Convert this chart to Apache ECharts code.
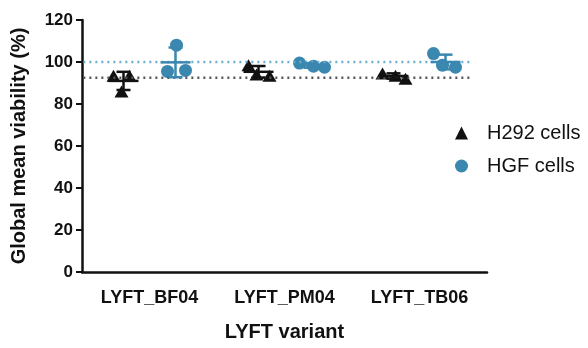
<!DOCTYPE html>
<html>
<head>
<meta charset="utf-8">
<script src="https://cdn.jsdelivr.net/npm/echarts@6/dist/echarts.min.js"></script>
<style>
  html, body { margin: 0; padding: 0; background: #fff; }
  #chart { width: 588px; height: 348px; }
</style>
</head>
<body>
<div id="chart"></div>
<script>
// data
var variants = ['LYFT_BF04', 'LYFT_PM04', 'LYFT_TB06'];
var h292Values = [
    [93.5, 93.5, 86],
    [98.5, 94, 93.5],
    [94.5, 93.5, 92]
];
var hgfValues = [
    [108, 95.5, 96],
    [99.5, 98, 97.5],
    [104, 98.5, 97.5]
];
var h292RefLine = 92.5;
var hgfRefLine = 100;
var yTicks = [0, 20, 40, 60, 80, 100, 120];

// jitter in pixels inside each group (layout only)
var groupShift = 26;
var h292Jitter = [[-10, 6, -2], [-10, -2, 11], [-11, 2, 12]];
var hgfJitter = [[1, -8, 10], [-11, 3, 14], [-12, -3, 10]];

var black = '#111';
var blue = '#3a87b0';
var font = 'Arial, "Liberation Sans", sans-serif';

function meanSd(arr) {
    var m = 0;
    arr.forEach(function (v) { m += v; });
    m = m / arr.length;
    var s = 0;
    arr.forEach(function (v) { s += (v - m) * (v - m); });
    s = Math.sqrt(s / (arr.length - 1));
    return [m, s];
}

function pointData(values, jitter, shift) {
    var out = [];
    values.forEach(function (vals, i) {
        vals.forEach(function (v, j) {
            out.push({ value: [i, v], symbolOffset: [shift + jitter[i][j], 0] });
        });
    });
    return out;
}

function barData(values) {
    return values.map(function (vals, i) {
        var ms = meanSd(vals);
        return [i, ms[0], ms[0] - ms[1], ms[0] + ms[1]];
    });
}

function errorRenderer(shift, color) {
    return function (params, api) {
        var mid = api.coord([api.value(0), api.value(1)]);
        var lo = api.coord([api.value(0), api.value(2)]);
        var hi = api.coord([api.value(0), api.value(3)]);
        var x = mid[0] + shift;
        var style = { stroke: color, lineWidth: 2.5 };
        return {
            type: 'group',
            children: [
                { type: 'line', shape: { x1: x, y1: hi[1], x2: x, y2: lo[1] }, style: style },
                { type: 'line', shape: { x1: x - 15, y1: mid[1], x2: x + 15, y2: mid[1] }, style: style },
                { type: 'line', shape: { x1: x - 7, y1: hi[1], x2: x + 7, y2: hi[1] }, style: style },
                { type: 'line', shape: { x1: x - 7, y1: lo[1], x2: x + 7, y2: lo[1] }, style: style }
            ]
        };
    };
}

var myChart = echarts.init(document.getElementById('chart'));

var option = {
    animation: false,
    textStyle: { fontFamily: font },
    grid: { left: 82, right: 101, top: 20, bottom: 76 },
    legend: {
        orient: 'vertical',
        left: 450,
        top: 118,
        itemGap: 13,
        itemWidth: 13,
        itemHeight: 13,
        textStyle: { fontSize: 20, color: '#111', fontFamily: font, padding: [0, 0, 0, 14] },
        data: [
            { name: 'H292 cells', icon: 'triangle' },
            { name: 'HGF cells', icon: 'circle' }
        ]
    },
    xAxis: [{
        type: 'category',
        data: variants,
        name: 'LYFT variant',
        nameLocation: 'middle',
        nameGap: 50,
        nameTextStyle: { fontSize: 20, fontWeight: 'bold', color: '#111' },
        axisLine: { lineStyle: { color: black, width: 2.5 } },
        axisTick: { alignWithLabel: true, length: 8, lineStyle: { color: black, width: 2.5 } },
        axisLabel: { fontSize: 18, fontWeight: 'bold', color: '#111', margin: 17 }
    }, {
        type: 'value',
        min: -0.5,
        max: 2.5,
        show: false
    }],
    yAxis: {
        type: 'value',
        min: yTicks[0],
        max: yTicks[yTicks.length - 1],
        interval: 20,
        name: 'Global mean viability (%)',
        nameLocation: 'middle',
        nameGap: 53,
        nameTextStyle: { fontSize: 20, fontWeight: 'bold', color: '#111' },
        splitLine: { show: false },
        axisLine: { show: true, onZero: false, lineStyle: { color: black, width: 2.5 } },
        axisTick: { show: true, length: 6, lineStyle: { color: black, width: 2 } },
        axisLabel: { fontSize: 17, fontWeight: 'bold', color: '#111', margin: 9 }
    },
    series: [{
        name: 'H292 ref',
        type: 'line',
        xAxisIndex: 1,
        symbol: 'none',
        silent: true,
        lineStyle: { color: '#555', width: 2.5, type: [2, 4] },
        data: [[-0.49, h292RefLine], [2.39, h292RefLine]]
    }, {
        name: 'HGF ref',
        type: 'line',
        xAxisIndex: 1,
        symbol: 'none',
        silent: true,
        lineStyle: { color: '#6aaed0', width: 2.5, type: [2, 4] },
        data: [[-0.49, hgfRefLine], [2.39, hgfRefLine]]
    }, {
        name: 'H292 cells',
        type: 'scatter',
        symbol: 'triangle',
        symbolSize: [14, 12],
        itemStyle: { color: black, opacity: 1 },
        data: pointData(h292Values, h292Jitter, -groupShift)
    }, {
        name: 'HGF cells',
        type: 'scatter',
        symbol: 'circle',
        symbolSize: 13,
        itemStyle: { color: blue, opacity: 1 },
        data: pointData(hgfValues, hgfJitter, groupShift)
    }, {
        type: 'custom',
        z: 5,
        renderItem: errorRenderer(-groupShift, black),
        data: barData(h292Values)
    }, {
        type: 'custom',
        z: 5,
        renderItem: errorRenderer(groupShift, blue),
        data: barData(hgfValues)
    }]
};

myChart.setOption(option);
</script>
</body>
</html>
